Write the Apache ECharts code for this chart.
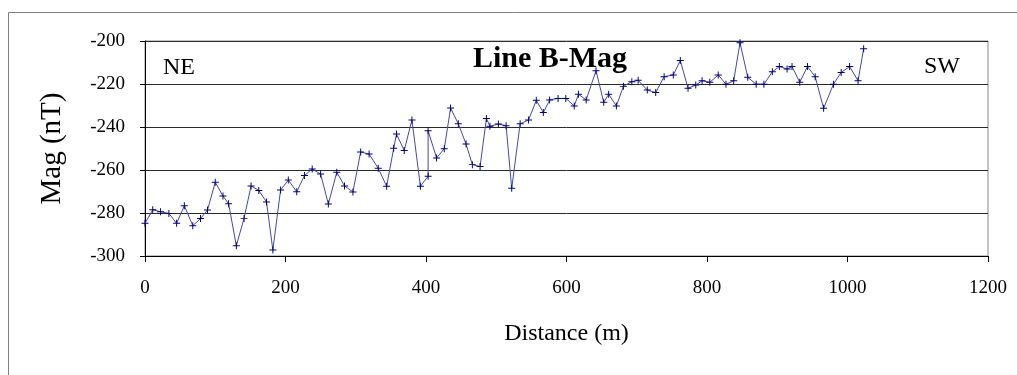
<!DOCTYPE html>
<html>
<head>
<meta charset="utf-8">
<script src="https://cdn.jsdelivr.net/npm/echarts@6/dist/echarts.min.js"></script>
<style>
  html, body { margin: 0; padding: 0; background: #fff; }
  #chart { width: 1017px; height: 375px; }
</style>
</head>
<body>
<div id="chart"></div>
<script>
// distance (m) and magnetic reading (nT)
const distance = [
  0, 11, 22, 34, 45, 56, 68, 79, 89, 100,
  111, 119, 130, 141, 151, 162, 173, 182, 193, 204,
  216, 227, 238, 250, 261, 273, 284, 296, 307, 319,
  332, 344, 354, 358, 369, 380, 392, 403, 403, 415,
  426, 435, 446, 457, 466, 477, 486, 491, 503, 514,
  522, 534, 546, 557, 567, 576, 588, 599, 611, 617,
  628, 642, 653, 660, 671, 681, 693, 702, 715, 727,
  739, 752, 762, 773, 784, 793, 804, 816, 827, 838,
  847, 858, 870, 881, 893, 903, 914, 921, 932, 943,
  954, 966, 980, 991, 1003, 1015, 1023
];
const mag = [
  -284.8, -278.5, -279.4, -280.2, -284.8, -276.6, -285.9, -282.6, -278.6, -265.7,
  -272.1, -275.7, -295.2, -282.5, -267.4, -269.5, -274.9, -297.2, -269.3, -264.7,
  -270.1, -262.6, -259.5, -261.9, -275.8, -261.0, -267.4, -270.2, -251.6, -252.6,
  -259.2, -267.6, -249.9, -243.3, -250.9, -236.7, -267.6, -262.9, -241.7, -254.4,
  -250.1, -231.2, -238.5, -247.9, -257.5, -258.4, -236.0, -239.7, -238.6, -239.4,
  -268.5, -238.5, -236.7, -227.6, -233.3, -227.4, -226.7, -226.7, -230.2, -224.8,
  -227.4, -213.8, -228.5, -224.8, -230.2, -221.1, -218.9, -218.3, -222.8, -224.0,
  -216.6, -215.8, -209.1, -222.0, -220.5, -218.5, -219.2, -215.8, -220.1, -218.5,
  -200.8, -216.9, -220.1, -220.1, -214.3, -211.9, -213.0, -211.9, -219.2, -211.9,
  -216.6, -231.3, -220.1, -214.6, -211.9, -218.5, -203.6
];

const serif = "'Liberation Serif', 'Times New Roman', serif";
const chart = echarts.init(document.getElementById('chart'));

chart.setOption({
  animation: false,
  textStyle: { fontFamily: serif, color: '#000' },
  grid: {
    left: 145, top: 41, width: 843, height: 215,
    show: true, borderColor: '#8a8a8a', borderWidth: 1
  },
  xAxis: {
    type: 'value',
    min: 0, max: 1200, interval: 200,
    name: 'Distance (m)',
    nameLocation: 'middle',
    nameGap: 66,
    nameTextStyle: { fontFamily: serif, fontSize: 24, color: '#000', verticalAlign: 'top' },
    axisLine: { show: true, lineStyle: { color: '#000', width: 1 } },
    axisTick: { show: true, length: 6, lineStyle: { color: '#000' } },
    axisLabel: { fontFamily: serif, fontSize: 19, color: '#000', margin: 23, formatter: v => String(v) },
    splitLine: { show: false }
  },
  yAxis: {
    type: 'value',
    min: -300, max: -200, interval: 20,
    name: 'Mag (nT)',
    nameLocation: 'middle',
    nameGap: 78,
    nameTextStyle: { fontFamily: serif, fontSize: 29, color: '#000' },
    axisLine: { show: true, lineStyle: { color: '#000', width: 1 } },
    axisTick: { show: true, length: 5, lineStyle: { color: '#000' } },
    axisLabel: { fontFamily: serif, fontSize: 19, color: '#000', margin: 20, formatter: v => String(v) },
    splitLine: { show: true, lineStyle: { color: '#2a2a2a', width: 1 } }
  },
  graphic: [
    {
      type: 'rect', silent: true, z: -10,
      shape: { x: 8.5, y: 12.5, width: 1020, height: 400 },
      style: { fill: 'none', stroke: '#808080', lineWidth: 1 }
    },
    {
      type: 'text', x: 550, y: 44,
      style: {
        text: 'Line B-Mag', font: 'bold 30px ' + serif,
        fill: '#000', align: 'center', verticalAlign: 'top'
      }
    },
    {
      type: 'text', x: 163, y: 56,
      style: { text: 'NE', font: '24px ' + serif, fill: '#000', align: 'left', verticalAlign: 'top' }
    },
    {
      type: 'text', x: 924, y: 55,
      style: { text: 'SW', font: '24px ' + serif, fill: '#000', align: 'left', verticalAlign: 'top' }
    }
  ],
  series: [
    {
      type: 'line',
      data: distance.map((d, i) => [d, mag[i]]),
      symbol: 'path://M-0.7,-5H0.7V-0.7H5V0.7H0.7V5H-0.7V0.7H-5V-0.7H-0.7Z',
      symbolSize: 7,
      showAllSymbol: true,
      lineStyle: { color: '#4646ad', width: 1 },
      itemStyle: { color: '#000080' }
    }
  ]
});
</script>
</body>
</html>
